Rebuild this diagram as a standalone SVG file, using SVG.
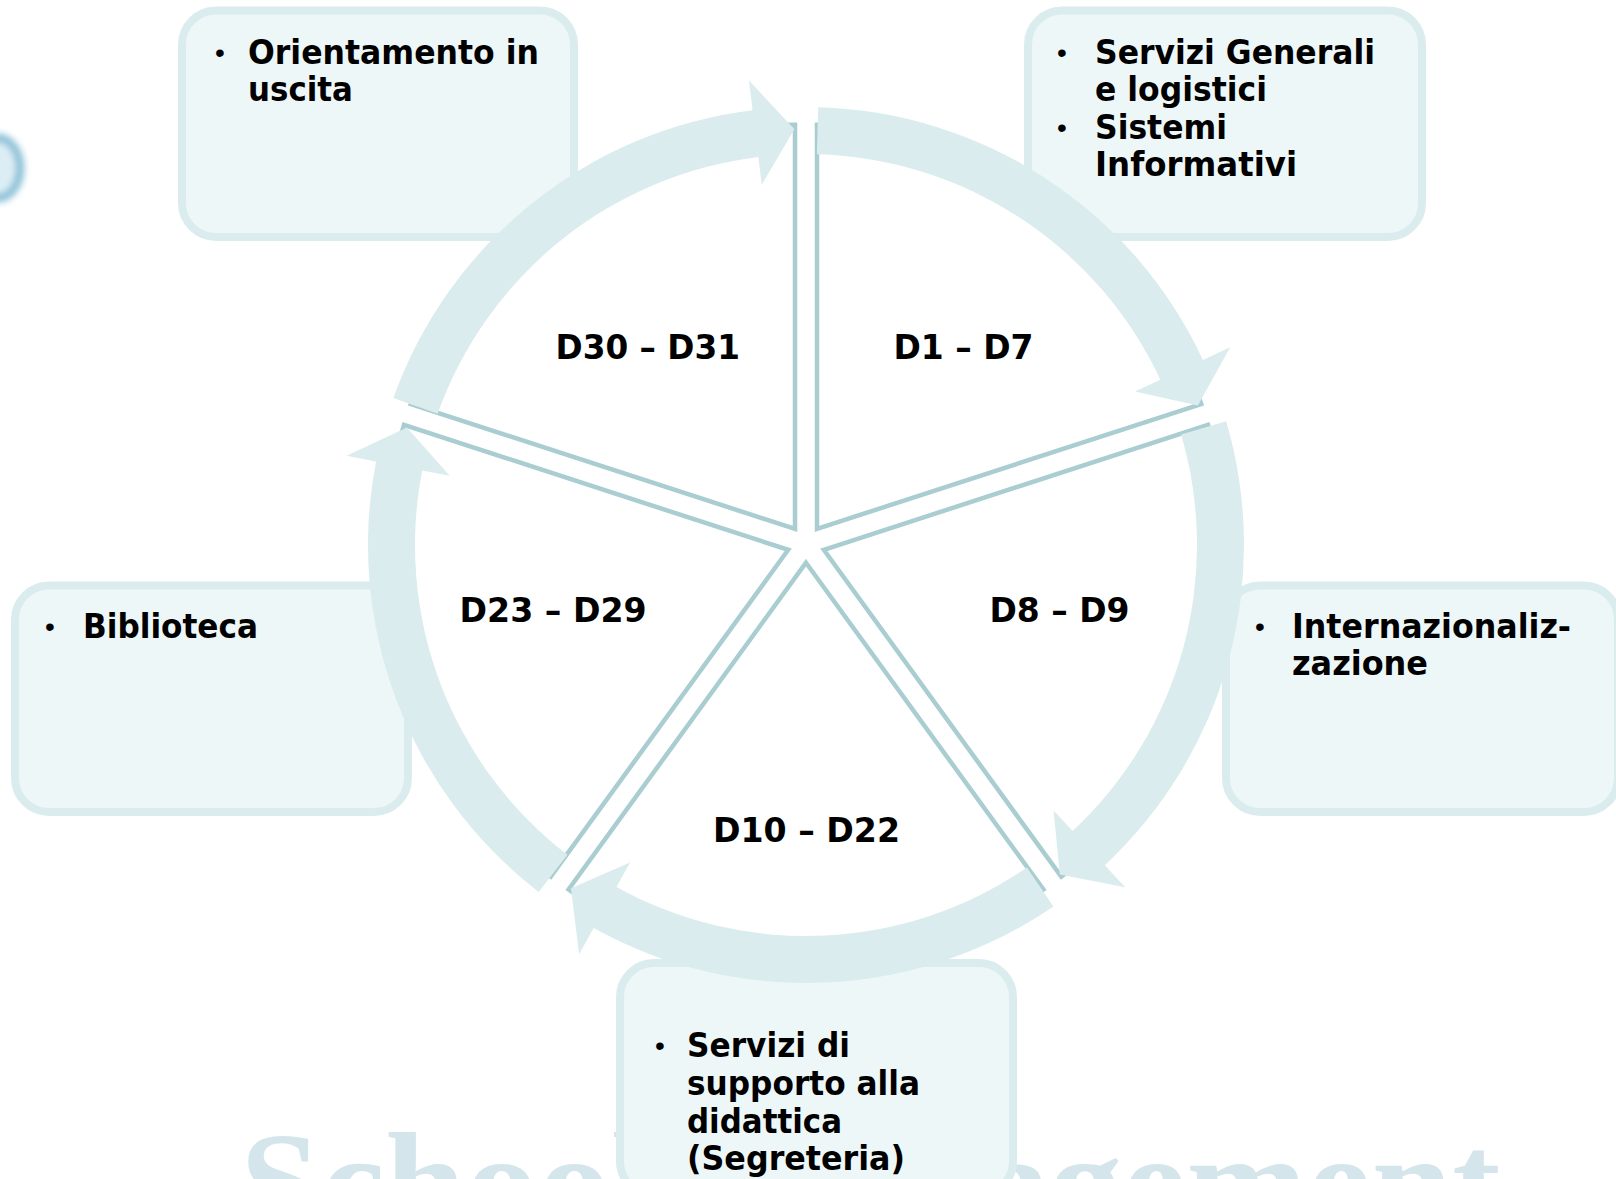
<svg xmlns="http://www.w3.org/2000/svg" width="1616" height="1179" viewBox="0 0 1616 1179">
<style>
.box{fill:#EEF7F8;stroke:#DAECEE;stroke-width:8}
.wedge{fill:#FFFFFF;stroke:#A9CDD0;stroke-width:4.5;stroke-linejoin:miter}
.arrow{fill:#DAECEE;stroke:none}
.t{font-family:"DejaVu Sans","Liberation Sans",sans-serif;font-weight:bold;font-size:33px;fill:#000}
.lbl{font-family:"DejaVu Sans","Liberation Sans",sans-serif;font-weight:bold;font-size:34px;fill:#000}
.bul{font-family:"Liberation Sans",Arial,sans-serif;font-size:28px;fill:#000;text-anchor:middle}
.wm{font-family:"Liberation Serif","Times New Roman",serif;font-weight:bold;font-size:145px;fill:#D5E5EC}
</style>
<defs>
<filter id="blur" x="-50%" y="-50%" width="200%" height="200%"><feGaussianBlur stdDeviation="3"/></filter>
</defs>
<rect width="1616" height="1179" fill="#FFFFFF"/>
<g id="watermark">
<text class="wm" x="240" y="1232">School Management</text>
</g>
<g id="logo" filter="url(#blur)">
<ellipse cx="-2" cy="168" rx="22" ry="30" fill="#DCEEF4" stroke="#8FC2D8" stroke-width="9"/>
</g>
<g id="box-orientamento">
<rect class="box" x="182" y="10.5" width="392" height="226.5" rx="34"/>
<text class="bul" x="220" y="62">•</text>
<text class="t" x="248" y="64" textLength="291" lengthAdjust="spacingAndGlyphs">Orientamento in</text>
<text class="t" x="248" y="101" textLength="105" lengthAdjust="spacingAndGlyphs">uscita</text>
</g>
<g id="box-servizi-generali">
<rect class="box" x="1028" y="10.5" width="394" height="226.5" rx="34"/>
</g>
<g id="box-biblioteca">
<rect class="box" x="15" y="585.5" width="393" height="226.5" rx="34"/>
</g>
<g id="box-internazionalizzazione">
<rect class="box" x="1226" y="585.5" width="392" height="226.5" rx="34"/>
</g>
<g id="box-segreteria">
<rect class="box" x="620" y="963" width="393" height="232" rx="34"/>
</g>
<g id="wedges">
<path id="wedge-d1-d7" class="wedge" d="M816.99,528.87 L816.99,124.87 A404,404 0 0 1 1201.22,404.03 Z"/>
<path id="wedge-d8-d9" class="wedge" d="M823.79,549.78 L1208.02,424.94 A404,404 0 0 1 1061.26,876.62 Z"/>
<path id="wedge-d10-d22" class="wedge" d="M806,562.7 L1043.47,889.54 A404,404 0 0 1 568.53,889.54 Z"/>
<path id="wedge-d23-d29" class="wedge" d="M788.21,549.78 L550.74,876.62 A404,404 0 0 1 403.98,424.94 Z"/>
<path id="wedge-d30-d31" class="wedge" d="M795.01,528.87 L410.78,404.03 A404,404 0 0 1 795.01,124.87 Z"/>
</g>
<g id="connectors">
<path class="arrow" d="M818.23,107.17 A438,438 0 0 1 1202.96,359.89 L1230.15,347.21 L1197.90,405.45 L1134.99,391.59 L1160.37,379.76 A391,391 0 0 0 816.92,154.15 Z"/>
<path class="arrow" d="M1226.18,421.34 A438,438 0 0 1 1104.72,865.33 L1125.18,887.27 L1059.82,874.59 L1053.57,810.48 L1072.66,830.96 A391,391 0 0 0 1181.09,434.61 Z"/>
<path class="arrow" d="M1053.46,906.40 A438,438 0 0 1 593.65,928.08 L579.11,954.32 L570.97,888.25 L630.01,862.49 L616.44,886.98 A391,391 0 0 0 1026.90,867.62 Z"/>
<path class="arrow" d="M538.75,892.02 A438,438 0 0 1 376.05,461.43 L346.60,455.70 L406.93,427.55 L449.67,475.74 L422.18,470.39 A391,391 0 0 0 567.43,854.79 Z"/>
<path class="arrow" d="M393.38,398.07 A438,438 0 0 1 752.62,110.26 L748.96,80.49 L794.39,129.16 L761.76,184.70 L758.35,156.91 A391,391 0 0 0 437.65,413.84 Z"/>
</g>
<g id="labels">
<text class="lbl" x="555.5" y="359" textLength="184.5" lengthAdjust="spacingAndGlyphs">D30 – D31</text>
<text class="lbl" x="893.5" y="359" textLength="140" lengthAdjust="spacingAndGlyphs">D1 – D7</text>
<text class="lbl" x="989.5" y="622" textLength="140" lengthAdjust="spacingAndGlyphs">D8 – D9</text>
<text class="lbl" x="713" y="841.5" textLength="187" lengthAdjust="spacingAndGlyphs">D10 – D22</text>
<text class="lbl" x="459.6" y="622" textLength="187" lengthAdjust="spacingAndGlyphs">D23 – D29</text>
</g>
<g id="box-texts">
<text class="bul" x="1062" y="62">•</text>
<text class="t" x="1095" y="64" textLength="280" lengthAdjust="spacingAndGlyphs">Servizi Generali</text>
<text class="t" x="1095" y="101" textLength="172" lengthAdjust="spacingAndGlyphs">e logistici</text>
<text class="bul" x="1062" y="137">•</text>
<text class="t" x="1095" y="139" textLength="132" lengthAdjust="spacingAndGlyphs">Sistemi</text>
<text class="t" x="1095" y="176" textLength="202" lengthAdjust="spacingAndGlyphs">Informativi</text>
<text class="bul" x="50" y="636">•</text>
<text class="t" x="83" y="638" textLength="175" lengthAdjust="spacingAndGlyphs">Biblioteca</text>
<text class="bul" x="1260" y="636">•</text>
<text class="t" x="1292" y="638" textLength="279" lengthAdjust="spacingAndGlyphs">Internazionaliz-</text>
<text class="t" x="1292" y="675" textLength="136" lengthAdjust="spacingAndGlyphs">zazione</text>
<text class="bul" x="660" y="1055">•</text>
<text class="t" x="687" y="1057" textLength="163" lengthAdjust="spacingAndGlyphs">Servizi di</text>
<text class="t" x="687" y="1095" textLength="233" lengthAdjust="spacingAndGlyphs">supporto alla</text>
<text class="t" x="687" y="1133" textLength="155" lengthAdjust="spacingAndGlyphs">didattica</text>
<text class="t" x="687" y="1170" textLength="218" lengthAdjust="spacingAndGlyphs">(Segreteria)</text>
</g>
</svg>
